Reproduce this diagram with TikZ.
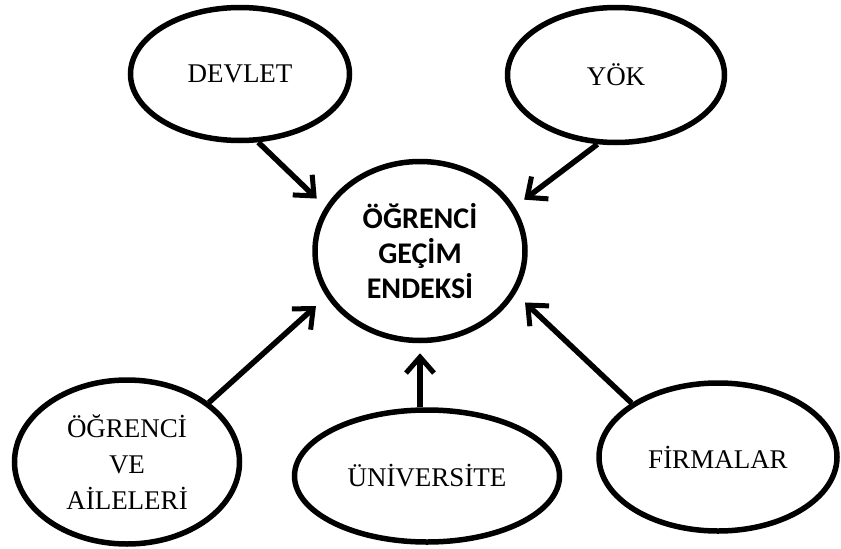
\documentclass[tikz,border=0pt]{standalone}
\usepackage{fontspec}
\setmainfont{Liberation Serif}
\newfontfamily\calfont{Carlito}
\usetikzlibrary{shapes.geometric,arrows.meta}
\tikzset{
  oval/.style={ellipse, draw=black, line width=5.5pt, inner sep=0pt, align=center,
    font=\fontsize{27}{36}\selectfont},
  hub/.style={oval, font=\calfont\bfseries\fontsize{30}{35}\selectfont},
  arr/.style={line width=5.5pt, -{Straight Barb[length=16pt,width=28pt,line width=5pt]}},
}
\begin{document}
\begin{tikzpicture}[x=1pt,y=-1pt]
\useasboundingbox (0,0) rectangle (841,549);
\node[oval, minimum width=219pt, minimum height=133pt] (dev) at (240,74) {DEVLET};
\node[oval, minimum width=217pt, minimum height=135pt] (yok) at (616,75) {YÖK};
\node[hub, minimum width=210pt, minimum height=179pt] (cen) at (420,251) {ÖĞRENCİ\\GEÇİM\\ENDEKSİ};
\node[oval, minimum width=225pt, minimum height=164pt] (ogr) at (127,462) {ÖĞRENCİ\\VE\\AİLELERİ};
\node[oval, minimum width=265pt, minimum height=132pt] (uni) at (427,476) {ÜNİVERSİTE};
\node[oval, minimum width=238pt, minimum height=148pt] (fir) at (718,457) {FİRMALAR};
\draw[arr, shorten >=12pt] (dev.-75) -- (cen.155);
\draw[arr, shorten >=12pt] (yok.-105) -- (cen.25);
\draw[arr, shorten >=14pt] (ogr.36) -- (cen.206);
\draw[arr, shorten >=10pt] (cen.south |- uni.north) -- (cen.south);
\draw[arr, shorten >=13pt] (fir.148) -- (cen.-24);
\end{tikzpicture}
\end{document}
